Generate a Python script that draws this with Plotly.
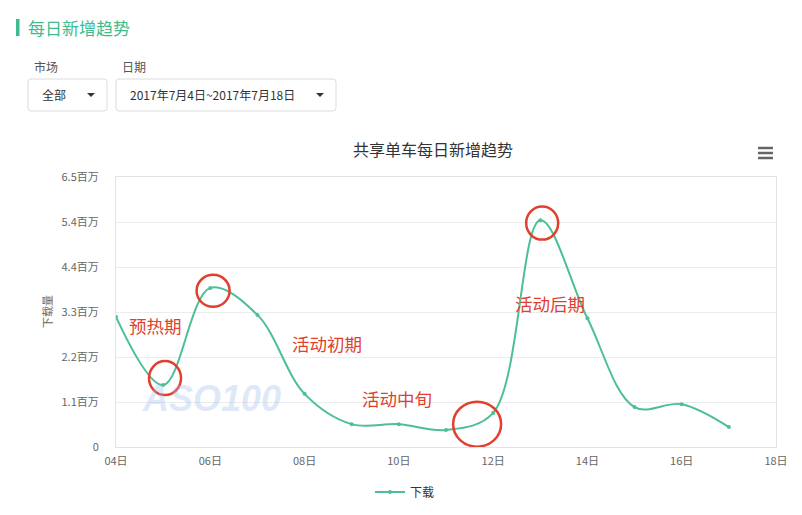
import plotly.graph_objects as go

# ---- data ----
days = [4, 5, 6, 7, 8, 9, 10, 11, 12, 13, 14, 15, 16, 17]
downloads = [3130000, 1490000, 3830000, 3180000, 1280000, 550000, 550000,
             410000, 820000, 5460000, 3100000, 960000, 1030000, 480000]
series_name = "下载"
x_tick_vals = [4, 6, 8, 10, 12, 14, 16, 18]
x_tick_text = ["04日", "06日", "08日", "10日", "12日", "14日", "16日", "18日"]
y_tick_vals = [0, 1083333, 2166667, 3250000, 4333333, 5416667, 6500000]
y_tick_text = ["0", "1.1百万", "2.2百万", "3.3百万", "4.4百万", "5.4百万", "6.5百万"]
chart_title = "共享单车每日新增趋势"
page_title = "每日新增趋势"
phase_labels = ["预热期", "活动初期", "活动中旬", "活动后期"]

FONT = "Noto Sans CJK SC, Noto Sans, sans-serif"
OFF = 8  # page body margin
W, H = 802 - OFF, 515 - OFF
# plot area in screen pixels
L, R, T, B = 116, 776, 177, 447


def px(x):
    return (x - L) / (R - L)


def py(y):
    return (B - y) / (B - T)


LINE = "#4dbf95"
RED = "#e2402f"

fig = go.Figure()
fig.add_trace(go.Scatter(
    x=days, y=downloads, name=series_name, mode="lines+markers",
    line=dict(color=LINE, width=2, shape="spline", smoothing=1.0),
    marker=dict(color=LINE, size=4),
))

shapes = []
annotations = []


def text(x, y, t, size, color, xanchor="center", angle=0, family=FONT):
    annotations.append(dict(xref="paper", yref="paper", x=px(x), y=py(y),
                            xanchor=xanchor, yanchor="middle", text=t,
                            showarrow=False, textangle=angle,
                            font=dict(family=family, size=size, color=color)))


# watermark
text(211, 398, "<i><b>ASO100</b></i>", 36, "rgba(160,190,235,0.35)",
     family="Liberation Sans")

# red circles marking points
circles = [(5.04, 1660000, 16, 17), (6.06, 3760000, 16.5, 16),
           (11.66, 550000, 24, 22.5), (13.04, 5390000, 16, 16.5)]
for cx, cy, rx, ry in circles:
    shapes.append(dict(type="circle", xref="x", yref="y", xsizemode="pixel",
                       ysizemode="pixel", xanchor=cx, yanchor=cy,
                       x0=-rx, x1=rx, y0=-ry, y1=ry,
                       line=dict(color=RED, width=2.5)))

# phase labels
label_pos = [(155, 325), (327, 343), (397, 398), (550, 303)]
for t, (lx, ly) in zip(phase_labels, label_pos):
    text(lx, ly, t, 17.5, RED)

# chart title
text(433, 149, chart_title, 16, "#333333")

# y-axis title
text(47, 312, "下载量", 11, "#666666", angle=-90)

# hamburger icon
for yy in (148, 153, 158):
    shapes.append(dict(type="line", xref="paper", yref="paper",
                       x0=px(758), x1=px(773), y0=py(yy), y1=py(yy),
                       line=dict(color="#666666", width=2.5)))

# page header
shapes.append(dict(type="rect", xref="paper", yref="paper",
                   x0=px(16), x1=px(19.5), y0=py(36), y1=py(19),
                   fillcolor="#3dbd8f", line=dict(width=0)))
text(26, 27, page_title, 17, "#3dbd8f", xanchor="left")

# filter labels
text(32, 67, "市场", 12, "#555555", xanchor="left")
text(120, 67, "日期", 12, "#555555", xanchor="left")


def rounded_rect(x0, y0, x1, y1, r=3):
    X0, X1 = px(x0), px(x1)
    Y0, Y1 = py(y0), py(y1)
    rx = r / (R - L)
    ry = r / (B - T)
    return (f"M {X0+rx},{Y0} L {X1-rx},{Y0} Q {X1},{Y0} {X1},{Y0-ry} "
            f"L {X1},{Y1+ry} Q {X1},{Y1} {X1-rx},{Y1} L {X0+rx},{Y1} "
            f"Q {X0},{Y1} {X0},{Y1+ry} L {X0},{Y0-ry} Q {X0},{Y0} {X0+rx},{Y0} Z")


for (x0, x1, label, ax) in [(28, 107, "全部", 91), (116, 336, "2017年7月4日~2017年7月18日", 320)]:
    shapes.append(dict(type="path", xref="paper", yref="paper",
                       path=rounded_rect(x0, 79, x1, 111),
                       line=dict(color="#dcdcdc", width=1), fillcolor="white"))
    text(x0 + 12, 95, label, 12, "#333333", xanchor="left")
    shapes.append(dict(type="path", xref="paper", yref="paper",
                       path=f"M {px(ax-4)},{py(93)} L {px(ax+4)},{py(93)} L {px(ax)},{py(97)} Z",
                       fillcolor="#333333", line=dict(width=0)))

fig.update_layout(
    width=W, height=H,
    margin=dict(l=L - OFF, r=802 - R, t=T - OFF, b=515 - B, autoexpand=False),
    paper_bgcolor="white", plot_bgcolor="white",
    font=dict(family=FONT, size=11, color="#666666"),
    showlegend=True,
    legend=dict(orientation="h", xref="paper", x=px(405), xanchor="center",
                yref="container", y=1 - (492 - OFF) / H, yanchor="middle",
                font=dict(family=FONT, size=12, color="#333333")),
    shapes=shapes, annotations=annotations,
    xaxis=dict(range=[4, 18], tickvals=x_tick_vals, ticktext=x_tick_text,
               showgrid=False, zeroline=False, showline=True, mirror=True,
               linecolor="#e3e3e3", linewidth=1, ticks="",
               ticklabelstandoff=4, automargin=False,
               tickfont=dict(size=11, color="#666666")),
    yaxis=dict(range=[0, 6500000], tickvals=y_tick_vals, ticktext=y_tick_text,
               showgrid=True, gridcolor="#ececec", zeroline=False,
               showline=True, mirror=True, linecolor="#e3e3e3", linewidth=1,
               ticks="", ticklabelstandoff=14, automargin=False,
               tickfont=dict(size=11, color="#666666")),
)

fig.write_html("out.html")
